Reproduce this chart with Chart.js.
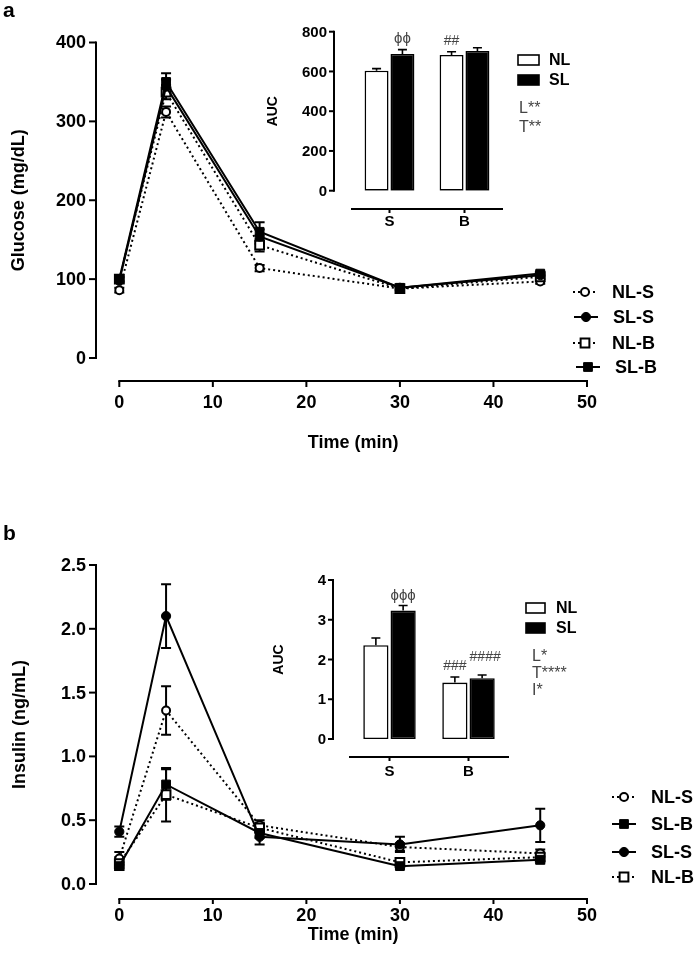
<!DOCTYPE html>
<html><head><meta charset="utf-8">
<script src="https://cdn.jsdelivr.net/npm/chart.js@4.4.1/dist/chart.umd.min.js"></script>
<style>
html,body{margin:0;padding:0;background:#fff;}
#wrap{position:relative;width:700px;height:964px;overflow:hidden;background:#fff;}
canvas{position:absolute;}
</style></head><body>
<div id="wrap">
<canvas id="mainA" width="700" height="470" style="left:0px;top:0px"></canvas>
<canvas id="insetA" width="450" height="225" style="left:250px;top:15px"></canvas>
<canvas id="mainB" width="700" height="494" style="left:0px;top:470px"></canvas>
<canvas id="insetB" width="450" height="230" style="left:250px;top:560px"></canvas>
</div>
<script>
// ---------------- DATA ----------------
const timePoints = [0, 5, 15, 30, 45];
const timeTicks = [0, 10, 20, 30, 40, 50];
const glucoseTicks = [0, 100, 200, 300, 400];
const insulinTicks = [0, 0.5, 1.0, 1.5, 2.0, 2.5];
const insulinTickLabels = ['0.0', '0.5', '1.0', '1.5', '2.0', '2.5'];

const glucoseNLS = [86, 312, 114, 88, 97];
const glucoseNLSErr = [3, 7, 4, 2, 3];
const glucoseSLS = [98, 344, 154, 89, 105];
const glucoseSLSErr = [3, 9, 9, 2, 3];
const glucoseNLB = [100, 337, 143, 88, 103];
const glucoseNLBErr = [3, 9, 8, 2, 3];
const glucoseSLB = [100, 350, 160, 89, 107];
const glucoseSLBErr = [3, 11, 12, 2, 3];

const insulinNLS = [0.20, 1.36, 0.46, 0.29, 0.24];
const insulinNLSErr = [0.05, 0.19, 0.04, 0.03, 0.03];
const insulinSLB = [0.14, 0.78, 0.40, 0.14, 0.19];
const insulinSLBErr = [0.03, 0.12, 0.04, 0.02, 0.03];
const insulinSLS = [0.41, 2.10, 0.37, 0.31, 0.46];
const insulinSLSErr = [0.04, 0.25, 0.06, 0.06, 0.13];
const insulinNLB = [0.16, 0.70, 0.44, 0.17, 0.21];
const insulinNLBErr = [0.05, 0.21, 0.04, 0.02, 0.03];

const legendOrderA = ['NL-S', 'SL-S', 'NL-B', 'SL-B'];
const legendOrderB = ['NL-S', 'SL-B', 'SL-S', 'NL-B'];

const aucCategories = ['S', 'B'];
const aucGroups = ['NL', 'SL'];
const aucGlucoseTicks = [0, 200, 400, 600, 800];
const aucGlucoseNL = [604, 683];
const aucGlucoseNLErr = [10, 16];
const aucGlucoseSL = [688, 703];
const aucGlucoseSLErr = [22, 16];
const aucInsulinTicks = [0, 1, 2, 3, 4];
const aucInsulinNL = [2.36, 1.42];
const aucInsulinNLErr = [0.18, 0.14];
const aucInsulinSL = [3.23, 1.53];
const aucInsulinSLErr = [0.13, 0.08];
const statsGlucose = ['L**', 'T**'];
const statsInsulin = ['L*', 'T****', 'I*'];

// ---------------- HELPERS ----------------
const FAM = '"Liberation Sans", Arial, "DejaVu Sans", sans-serif';
const bold = s => 'bold ' + s + 'px ' + FAM;
const reg = s => s + 'px ' + FAM;

function marker(ctx, style, r, fill, bw, x, y) {
  ctx.save();
  ctx.setLineDash([]);
  ctx.fillStyle = fill; ctx.strokeStyle = '#000'; ctx.lineWidth = bw;
  ctx.beginPath();
  if (style === 'circle') ctx.arc(x, y, r, 0, Math.PI * 2);
  else { const s = Math.SQRT1_2 * r; ctx.rect(x - s, y - s, 2 * s, 2 * s); }
  ctx.fill(); if (bw > 0) ctx.stroke();
  ctx.restore();
}

function lineDs(label, values, errs, style, filled, dotted) {
  const r = style === 'rect' ? 6.2 : (filled ? 4.6 : 4);
  return {
    label: label,
    data: timePoints.map((t, i) => ({ x: t, y: values[i] })),
    errors: errs,
    borderColor: '#000', borderWidth: 2,
    borderDash: dotted ? [2, 3] : [],
    pointStyle: style, pointRadius: r, pointHoverRadius: r,
    pointBackgroundColor: filled ? '#000' : '#fff',
    pointBorderColor: '#000', pointBorderWidth: filled ? 1 : 2,
    tension: 0, fill: false, clip: false
  };
}

const gpAxes = {
  id: 'gpAxes',
  afterDraw(chart, args, o) {
    const ctx = chart.ctx, xs = chart.scales.x, ys = chart.scales.y, lw = o.lw;
    ctx.save();
    ctx.strokeStyle = '#000'; ctx.fillStyle = '#000'; ctx.lineWidth = lw; ctx.setLineDash([]);
    // y axis
    const yTop = ys.getPixelForValue(o.yTicks[o.yTicks.length - 1]);
    const yBot = ys.getPixelForValue(o.yTicks[0]);
    ctx.beginPath(); ctx.moveTo(o.yAxisX, yTop - lw / 2); ctx.lineTo(o.yAxisX, yBot + lw / 2); ctx.stroke();
    ctx.font = o.tickFont; ctx.textAlign = 'right'; ctx.textBaseline = 'middle';
    o.yTicks.forEach((v, i) => {
      const p = ys.getPixelForValue(v);
      ctx.beginPath(); ctx.moveTo(o.yAxisX, p); ctx.lineTo(o.yAxisX - o.tickLen, p); ctx.stroke();
      ctx.fillText(o.yLabels[i], o.yAxisX - o.tickLen - o.pad, p + 1);
    });
    // x axis
    let xp, x0, x1;
    if (o.categorical) {
      xp = o.xLabels.map((_, i) => xs.getPixelForValue(i));
      x0 = chart.chartArea.left; x1 = chart.chartArea.right;
    } else {
      xp = o.xTicks.map(v => xs.getPixelForValue(v));
      x0 = xp[0]; x1 = xp[xp.length - 1];
    }
    ctx.beginPath(); ctx.moveTo(x0 - lw / 2, o.xAxisY); ctx.lineTo(x1 + lw / 2, o.xAxisY); ctx.stroke();
    ctx.textAlign = 'center'; ctx.font = o.xTickFont || o.tickFont;
    xp.forEach((p, i) => {
      ctx.beginPath(); ctx.moveTo(p, o.xAxisY); ctx.lineTo(p, o.xAxisY + o.xTickLen); ctx.stroke();
      ctx.fillText(String(o.xLabels[i]), p, o.xAxisY + o.xLabelDy);
    });
    // titles
    ctx.font = o.titleFont;
    if (o.xTitle) ctx.fillText(o.xTitle, (x0 + x1) / 2, o.xTitleY);
    if (o.yTitle) {
      ctx.save(); ctx.translate(o.yTitleX, (yTop + yBot) / 2); ctx.rotate(-Math.PI / 2);
      ctx.textAlign = 'center'; ctx.fillText(o.yTitle, 0, 0); ctx.restore();
    }
    if (o.letter) {
      ctx.font = bold(21); ctx.textAlign = 'left'; ctx.textBaseline = 'alphabetic';
      ctx.fillText(o.letter, o.letterX, o.letterY);
    }
    ctx.restore();
  }
};

const gpLineErr = {
  id: 'gpLineErr',
  beforeDatasetsDraw(chart, args, o) {
    const ctx = chart.ctx, xs = chart.scales.x, ys = chart.scales.y;
    ctx.save(); ctx.strokeStyle = '#000'; ctx.lineWidth = o.lw; ctx.setLineDash([]);
    chart.data.datasets.forEach(ds => {
      ds.data.forEach((pt, i) => {
        const e = ds.errors[i]; if (!e) return;
        const x = xs.getPixelForValue(pt.x), yt = ys.getPixelForValue(pt.y + e), yb = ys.getPixelForValue(pt.y - e);
        ctx.beginPath();
        ctx.moveTo(x, yt); ctx.lineTo(x, yb);
        ctx.moveTo(x - o.cap / 2, yt); ctx.lineTo(x + o.cap / 2, yt);
        ctx.moveTo(x - o.cap / 2, yb); ctx.lineTo(x + o.cap / 2, yb);
        ctx.stroke();
      });
    });
    ctx.restore();
  }
};

const gpLegend = {
  id: 'gpLegend',
  afterDraw(chart, args, o) {
    const ctx = chart.ctx;
    o.items.forEach((name, k) => {
      const ds = chart.data.datasets.find(d => d.label === name);
      const y = o.y[k], mx = o.markerX + (o.shift ? o.shift[k] : 0);
      ctx.save();
      ctx.strokeStyle = '#000'; ctx.lineWidth = ds.borderWidth; ctx.setLineDash(ds.borderDash);
      ctx.beginPath(); ctx.moveTo(mx - o.half, y); ctx.lineTo(mx + o.half, y); ctx.stroke();
      marker(ctx, ds.pointStyle, ds.pointRadius, ds.pointBackgroundColor, ds.pointBorderWidth, mx, y);
      ctx.fillStyle = '#000'; ctx.font = o.font; ctx.textAlign = 'left'; ctx.textBaseline = 'middle';
      ctx.fillText(name, o.textX + (o.shift ? o.shift[k] : 0), y + 1);
      ctx.restore();
    });
  }
};

const gpInset = {
  id: 'gpInset',
  afterDatasetsDraw(chart, args, o) {
    const ctx = chart.ctx, ys = chart.scales.y;
    ctx.save(); ctx.setLineDash([]);
    chart.data.datasets.forEach((ds, di) => {
      const meta = chart.getDatasetMeta(di);
      meta.data.forEach((bar, j) => {
        const top = ys.getPixelForValue(ds.data[j]);
        const et = ys.getPixelForValue(ds.data[j] + ds.errors[j]);
        ctx.strokeStyle = '#000'; ctx.lineWidth = 1.6;
        ctx.beginPath(); ctx.moveTo(bar.x, top); ctx.lineTo(bar.x, et);
        ctx.moveTo(bar.x - o.cap / 2, et); ctx.lineTo(bar.x + o.cap / 2, et); ctx.stroke();
      });
    });
    // significance marks
    ctx.fillStyle = '#444'; ctx.textAlign = 'center'; ctx.textBaseline = 'middle';
    o.marks.forEach(m => {
      const ds = chart.data.datasets[m.ds];
      const bar = chart.getDatasetMeta(m.ds).data[m.idx];
      const et = ys.getPixelForValue(ds.data[m.idx] + ds.errors[m.idx]);
      ctx.font = reg(m.size);
      ctx.fillText(m.text, bar.x + (m.dx || 0), et - m.dy);
    });
    // legend boxes
    chart.data.datasets.forEach((ds, di) => {
      const y = o.legY + di * o.legDy;
      ctx.fillStyle = ds.backgroundColor; ctx.strokeStyle = '#000'; ctx.lineWidth = 1.6;
      ctx.fillRect(o.legX, y - o.boxH / 2, o.boxW, o.boxH);
      ctx.strokeRect(o.legX, y - o.boxH / 2, o.boxW, o.boxH);
      ctx.fillStyle = '#000'; ctx.font = bold(16); ctx.textAlign = 'left';
      ctx.fillText(ds.label, o.legTextX, y + 1);
    });
    // stats
    ctx.fillStyle = '#444'; ctx.font = reg(16); ctx.textAlign = 'left';
    o.stats.forEach((s, i) => ctx.fillText(s, o.statX, o.statY + i * o.statDy));
    ctx.restore();
  }
};

function lineChart(id, datasets, yMax, pad, axes, legend, err) {
  return new Chart(document.getElementById(id), {
    type: 'line',
    data: { datasets: datasets },
    options: {
      responsive: false, animation: false, devicePixelRatio: 1,
      layout: { padding: pad, autoPadding: false },
      scales: {
        x: { type: 'linear', display: false, min: 0, max: 50 },
        y: { type: 'linear', display: false, min: 0, max: yMax }
      },
      plugins: { legend: { display: false }, tooltip: { enabled: false }, gpAxes: axes, gpLegend: legend, gpLineErr: err }
    },
    plugins: [gpLineErr, gpAxes, gpLegend]
  });
}

function barChart(id, nl, nlErr, sl, slErr, yMax, pad, axes, inset) {
  const common = { borderColor: '#000', borderWidth: 1.6, borderSkipped: false, categoryPercentage: 0.69, barPercentage: 0.925 };
  return new Chart(document.getElementById(id), {
    type: 'bar',
    data: {
      labels: aucCategories,
      datasets: [
        Object.assign({ label: aucGroups[0], data: nl, errors: nlErr, backgroundColor: '#fff' }, common),
        Object.assign({ label: aucGroups[1], data: sl, errors: slErr, backgroundColor: '#000' }, common)
      ]
    },
    options: {
      responsive: false, animation: false, devicePixelRatio: 1,
      layout: { padding: pad, autoPadding: false },
      scales: { x: { display: false }, y: { display: false, min: 0, max: yMax } },
      plugins: { legend: { display: false }, tooltip: { enabled: false }, gpAxes: axes, gpInset: inset }
    },
    plugins: [gpAxes, gpInset]
  });
}

// ---------------- PANEL A ----------------
lineChart('mainA', [
  lineDs('SL-B', glucoseSLB, glucoseSLBErr, 'rect', true, false),
  lineDs('SL-S', glucoseSLS, glucoseSLSErr, 'circle', true, false),
  lineDs('NL-B', glucoseNLB, glucoseNLBErr, 'rect', false, true),
  lineDs('NL-S', glucoseNLS, glucoseNLSErr, 'circle', false, true)
], 400,
{ left: 119.3, right: 113, top: 42.5, bottom: 112 },
{ lw: 2, yAxisX: 96, yTicks: glucoseTicks, yLabels: glucoseTicks.map(String), tickLen: 7, pad: 3,
  tickFont: bold(18), xTicks: timeTicks, xLabels: timeTicks, xAxisY: 381, xTickLen: 6, xLabelDy: 22,
  titleFont: bold(18), xTitle: 'Time (min)', xTitleY: 443, yTitle: 'Glucose (mg/dL)', yTitleX: 19,
  letter: 'a', letterX: 3, letterY: 17 },
{ items: legendOrderA, y: [292, 317, 343, 367], markerX: 585, half: 12, textX: 612, font: bold(18), shift: [0, 1, 0, 3] },
{ lw: 2, cap: 10 });

barChart('insetA', aucGlucoseNL, aucGlucoseNLErr, aucGlucoseSL, aucGlucoseSLErr, 800,
{ left: 102, right: 198, top: 16.7, bottom: 49.3 },
{ lw: 2, yAxisX: 84, yTicks: aucGlucoseTicks, yLabels: aucGlucoseTicks.map(String), tickLen: 5, pad: 2,
  tickFont: bold(15), categorical: true, xLabels: aucCategories, xAxisY: 194, xTickLen: 4, xLabelDy: 13,
  titleFont: bold(14), yTitle: 'AUC', yTitleX: 23 },
{ cap: 9, marks: [ { text: 'ϕϕ', ds: 1, idx: 0, dy: 11, size: 15 }, { text: '##', ds: 0, idx: 1, dy: 11, size: 14 } ],
  legX: 268, legY: 45, legDy: 20, boxW: 21, boxH: 10, legTextX: 299,
  stats: statsGlucose, statX: 269, statY: 94, statDy: 19 });

// ---------------- PANEL B ----------------
lineChart('mainB', [
  lineDs('SL-S', insulinSLS, insulinSLSErr, 'circle', true, false),
  lineDs('SL-B', insulinSLB, insulinSLBErr, 'rect', true, false),
  lineDs('NL-B', insulinNLB, insulinNLBErr, 'rect', false, true),
  lineDs('NL-S', insulinNLS, insulinNLSErr, 'circle', false, true)
], 2.5,
{ left: 119.3, right: 113, top: 95, bottom: 80 },
{ lw: 2, yAxisX: 96, yTicks: insulinTicks, yLabels: insulinTickLabels, tickLen: 7, pad: 3,
  tickFont: bold(18), xTicks: timeTicks, xLabels: timeTicks, xAxisY: 429, xTickLen: 5, xLabelDy: 17,
  titleFont: bold(18), xTitle: 'Time (min)', xTitleY: 465, yTitle: 'Insulin (ng/mL)', yTitleX: 20,
  letter: 'b', letterX: 3, letterY: 70 },
{ items: legendOrderB, y: [327, 354, 382, 407], markerX: 624, half: 12, textX: 651, font: bold(18) },
{ lw: 2, cap: 10 });

barChart('insetB', aucInsulinNL, aucInsulinNLErr, aucInsulinSL, aucInsulinSLErr, 4,
{ left: 100, right: 192, top: 20, bottom: 51 },
{ lw: 2, yAxisX: 83, yTicks: aucInsulinTicks, yLabels: aucInsulinTicks.map(String), tickLen: 5, pad: 2,
  tickFont: bold(15), categorical: true, xLabels: aucCategories, xAxisY: 197, xTickLen: 4, xLabelDy: 15,
  titleFont: bold(14), yTitle: 'AUC', yTitleX: 29 },
{ cap: 9, marks: [ { text: 'ϕϕϕ', ds: 1, idx: 0, dy: 10, size: 15 }, { text: '###', ds: 0, idx: 1, dy: 11, size: 14 },
  { text: '####', ds: 1, idx: 1, dy: 18, dx: 3, size: 14 } ],
  legX: 276, legY: 48, legDy: 20, boxW: 19, boxH: 10, legTextX: 306,
  stats: statsInsulin, statX: 282, statY: 97, statDy: 17 });
</script>
</body></html>
